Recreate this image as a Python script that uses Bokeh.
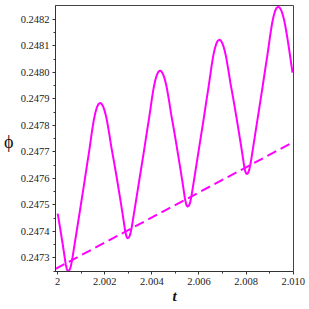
from bokeh.plotting import figure
from bokeh.models import FixedTicker, Range1d, LinearAxis
from bokeh.embed import file_html
from bokeh.resources import INLINE

# curve samples
t_vals = [
    2.000000, 2.000098, 2.000215, 2.000340, 2.000391, 2.000420, 2.000449,
    2.000503, 2.000557, 2.000615, 2.000719, 2.000855, 2.000990, 2.001125, 2.001260,
    2.001328, 2.001395, 2.001463, 2.001536, 2.001598, 2.001666, 2.001733, 2.001801,
    2.001860, 2.001919, 2.001978, 2.002037, 2.002096, 2.002192, 2.002272, 2.002390,
    2.002508, 2.002626, 2.002743, 2.002869, 2.002920, 2.002950, 2.002979,
    2.003034, 2.003088, 2.003147, 2.003253, 2.003389, 2.003526, 2.003663, 2.003800,
    2.003868, 2.003937, 2.004005, 2.004079, 2.004142, 2.004210, 2.004279, 2.004347,
    2.004406, 2.004464, 2.004523, 2.004582, 2.004641, 2.004737, 2.004817, 2.004934,
    2.005051, 2.005169, 2.005286, 2.005412, 2.005462, 2.005492, 2.005521,
    2.005575, 2.005628, 2.005686, 2.005790, 2.005924, 2.006058, 2.006193, 2.006327,
    2.006394, 2.006461, 2.006528, 2.006601, 2.006663, 2.006730, 2.006797, 2.006864,
    2.006922, 2.006981, 2.007039, 2.007098, 2.007156, 2.007252, 2.007332, 2.007449,
    2.007566, 2.007683, 2.007800, 2.007925, 2.007975, 2.008005, 2.008034,
    2.008087, 2.008140, 2.008198, 2.008300, 2.008433, 2.008566, 2.008699, 2.008832,
    2.008899, 2.008965, 2.009032, 2.009103, 2.009165, 2.009231, 2.009298, 2.009364,
    2.009423, 2.009481, 2.009540, 2.009598, 2.009657, 2.009752, 2.009832, 2.009970,
]
phi_vals = [
    0.2474670, 0.2474155, 0.2473503, 0.2472759, 0.2472569, 0.2472517, 0.2472502,
    0.2472540, 0.2472673, 0.2472933, 0.2473516, 0.2474277, 0.2475038, 0.2475799, 0.2476591,
    0.2476972, 0.2477384, 0.2477815, 0.2478208, 0.2478474, 0.2478684, 0.2478804, 0.2478842,
    0.2478814, 0.2478730, 0.2478592, 0.2478403, 0.2478163, 0.2477668, 0.2477209, 0.2476632,
    0.2476020, 0.2475382, 0.2474734, 0.2473994, 0.2473805, 0.2473754, 0.2473739,
    0.2473777, 0.2473910, 0.2474169, 0.2474750, 0.2475509, 0.2476267, 0.2477026, 0.2477816,
    0.2478195, 0.2478606, 0.2479036, 0.2479428, 0.2479693, 0.2479902, 0.2480022, 0.2480060,
    0.2480032, 0.2479947, 0.2479809, 0.2479619, 0.2479378, 0.2478881, 0.2478420, 0.2477840,
    0.2477225, 0.2476585, 0.2475934, 0.2475190, 0.2475001, 0.2474949, 0.2474934,
    0.2474972, 0.2475104, 0.2475362, 0.2475941, 0.2476696, 0.2477452, 0.2478207, 0.2478994,
    0.2479371, 0.2479780, 0.2480208, 0.2480599, 0.2480863, 0.2481071, 0.2481190, 0.2481228,
    0.2481200, 0.2481117, 0.2480980, 0.2480793, 0.2480555, 0.2480064, 0.2479608, 0.2479036,
    0.2478429, 0.2477796, 0.2477153, 0.2476419, 0.2476232, 0.2476181, 0.2476166,
    0.2476204, 0.2476336, 0.2476595, 0.2477175, 0.2477932, 0.2478688, 0.2479445, 0.2480233,
    0.2480612, 0.2481022, 0.2481450, 0.2481841, 0.2482106, 0.2482314, 0.2482434, 0.2482472,
    0.2482444, 0.2482360, 0.2482222, 0.2482033, 0.2481794, 0.2481299, 0.2480840, 0.2479990,
]

# dashed trend line
trend_t = [1.999910, 2.010013]
trend_phi = [0.2472585, 0.2477370]

x_major = [2.000, 2.002, 2.004, 2.006, 2.008, 2.010]
x_minor = [2.001, 2.003, 2.005, 2.007, 2.009]
x_labels = ["2", "2.002", "2.004", "2.006", "2.008", "2.010"]
y_major = [0.2473, 0.2474, 0.2475, 0.2476, 0.2477, 0.2478, 0.2479, 0.2480, 0.2481, 0.2482]
y_minor = [0.24725, 0.24735, 0.24745, 0.24755, 0.24765, 0.24775, 0.24785, 0.24795, 0.24805, 0.24815]
y_labels = ["0.2473", "0.2474", "0.2475", "0.2476", "0.2477", "0.2478", "0.2479", "0.2480", "0.2481", "0.2482"]
y_title = "ϕ"
y_title_at = 0.2477384
x_title = "t"

p = figure(frame_width=238, frame_height=266, output_backend="svg", toolbar_location=None,
           x_range=Range1d(1.999907, 2.010013), y_range=Range1d(0.2472484, 0.248252),
           min_border_left=55, min_border_right=12, min_border_top=5, min_border_bottom=10)
p.background_fill_color = "white"
p.border_fill_color = "white"
p.outline_line_color = "#444444"
p.outline_line_width = 1
p.grid.visible = False

color = "#ff00ff"
p.line(trend_t, trend_phi, line_color=color, line_width=2, line_dash="10 5")
p.line(t_vals, phi_vals, line_color=color, line_width=2, line_join="round")

for ax in (p.xaxis[0], p.yaxis[0]):
    ax.axis_line_color = "#333333"
    ax.major_tick_line_color = "#333333"
    ax.minor_tick_line_color = "#333333"
    ax.major_tick_out = 3
    ax.major_tick_in = 0
    ax.minor_tick_out = 2
    ax.minor_tick_in = 0
    ax.major_label_text_font = "Liberation Serif"
    ax.major_label_text_font_size = "10.5px"
    ax.major_label_text_color = "#222222"

p.xaxis.ticker = FixedTicker(ticks=x_major, minor_ticks=x_minor)
p.xaxis.major_label_overrides = {v: s for v, s in zip(x_major, x_labels)}
p.xaxis.major_label_standoff = 3
p.xaxis.axis_label = x_title
p.xaxis.axis_label_text_font = "Liberation Serif"
p.xaxis.axis_label_text_font_style = "bold italic"
p.xaxis.axis_label_text_font_size = "15px"
p.xaxis.axis_label_text_color = "#111111"
p.xaxis.axis_label_standoff = 0

p.yaxis.ticker = FixedTicker(ticks=y_major, minor_ticks=y_minor)
p.yaxis.major_label_overrides = {v: s for v, s in zip(y_major, y_labels)}
p.yaxis.major_label_standoff = 3

# upright y title as a one-tick axis
phi_axis = LinearAxis(ticker=FixedTicker(ticks=[y_title_at], minor_ticks=[]),
                      major_label_overrides={y_title_at: y_title},
                      axis_line_color=None, major_tick_line_color=None,
                      minor_tick_line_color=None, major_tick_out=0, major_tick_in=0,
                      major_label_standoff=4,
                      major_label_text_font="Liberation Serif",
                      major_label_text_font_size="18px",
                      major_label_text_color="#111111")
p.add_layout(phi_axis, "left")

open("out.html", "w").write(file_html(p, INLINE))
